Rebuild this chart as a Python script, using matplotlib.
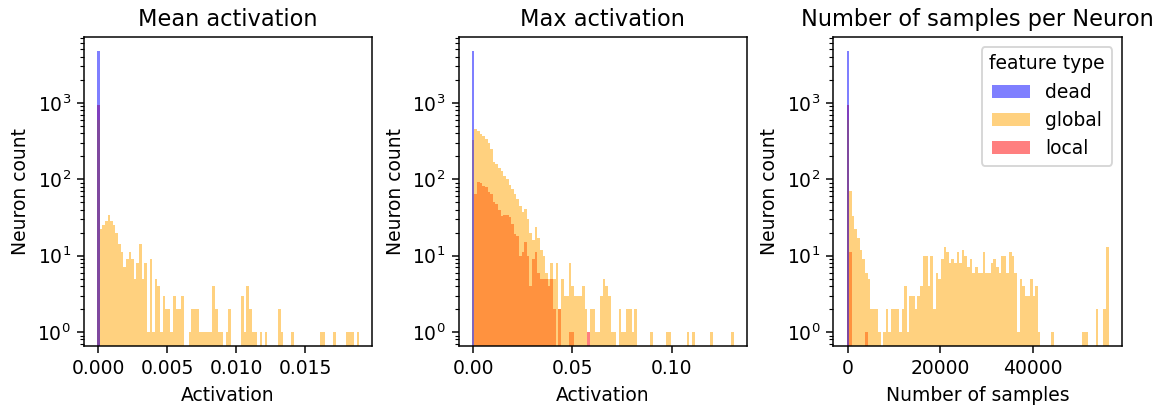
import numpy as np
import matplotlib.pyplot as plt

# --- data (100 bins per panel, counts per bin) ---
N_BINS = 100
DEAD_COUNT = 4700          # all dead neurons sit in bin 0

TITLES = ["Mean activation", "Max activation", "Number of samples per Neuron"]
XLABELS = ["Activation", "Activation", "Number of samples"]
HUE_ORDER = ["dead", "global", "local"]
PALETTE = {"dead": "blue", "global": "orange", "local": "red"}

MEAN_MAX = 0.0190
MEAN_GLOBAL = [600, 22, 25, 28, 34, 28, 25, 20, 14, 11,
               7, 9, 11, 9, 5, 8, 14, 5, 8, 1,
               9, 1, 5, 4, 1, 3, 2, 2, 1, 3,
               2, 2, 3, 0, 0, 1, 2, 2, 2, 1,
               1, 1, 1, 1, 4, 2, 1, 1, 0, 1,
               2, 0, 0, 0, 0, 3, 1, 4, 2, 1,
               1, 0, 1, 0, 1, 0, 0, 0, 0, 2,
               1, 0, 0, 0, 1, 0, 0, 0, 0, 0,
               0, 0, 0, 0, 0, 1, 1, 0, 0, 0,
               1, 0, 0, 0, 0, 1, 1, 1, 0, 1]
MEAN_LOCAL = [940]

MAX_MAX = 0.132
MAX_GLOBAL = [330, 460, 425, 385, 365, 335, 300, 245, 170, 157,
              142, 128, 110, 100, 85, 74, 64, 55, 45, 37,
              41, 30, 20, 16, 24, 17, 12, 10, 6, 5,
              8, 5, 8, 2, 5, 3, 3, 8, 4, 3,
              3, 3, 4, 2, 0, 2, 2, 1, 1, 3,
              5, 4, 3, 1, 1, 0, 2, 1, 1, 2,
              2, 1, 2, 0, 0, 0, 0, 0, 1, 0,
              0, 0, 0, 0, 1, 1, 0, 0, 0, 0,
              0, 0, 1, 0, 1, 0, 0, 0, 0, 0,
              0, 1, 0, 0, 0, 0, 0, 0, 0, 1]
MAX_LOCAL = [0, 64, 92, 90, 82, 78, 67, 64, 50, 48,
             40, 33, 34, 34, 32, 26, 19, 18, 10, 11,
             15, 10, 4, 9, 11, 6, 5, 5, 5, 4,
             5, 2, 0, 2, 0, 0, 0, 1, 1, 0,
             0, 0, 0, 0, 1]

SAMPLES_MAX = 56600
SAMPLES_GLOBAL = [600, 70, 33, 22, 17, 12, 9, 6, 5, 2,
                  2, 2, 1, 0, 1, 2, 1, 2, 2, 2,
                  1, 2, 4, 1, 3, 3, 2, 3, 4, 10,
                  10, 4, 10, 2, 6, 5, 9, 13, 11, 8,
                  9, 8, 11, 8, 12, 10, 7, 9, 6, 7,
                  6, 6, 11, 6, 6, 8, 9, 7, 6, 10,
                  10, 6, 11, 10, 6, 1, 5, 4, 3, 3,
                  5, 3, 4, 1, 0, 0, 0, 0, 1, 0,
                  0, 0, 0, 0, 0, 0, 0, 0, 0, 0,
                  1, 1, 0, 0, 0, 2, 0, 0, 2, 13]
SAMPLES_LOCAL = [940, 11, 0, 0, 0, 0, 0, 1]


def pad(counts):
    return np.array(list(counts) + [0] * (N_BINS - len(counts)), dtype=float)


panels = [
    (MEAN_MAX, MEAN_GLOBAL, MEAN_LOCAL),
    (MAX_MAX, MAX_GLOBAL, MAX_LOCAL),
    (SAMPLES_MAX, SAMPLES_GLOBAL, SAMPLES_LOCAL),
]

DPI = 135
fig, axes = plt.subplots(1, 3, figsize=(1157 / DPI, 411 / DPI), dpi=DPI)
fig.subplots_adjust(left=0.0726, right=0.9695, top=0.909, bottom=0.158, wspace=0.30)

for ax, (xmax, glob, loc), title, xlabel in zip(axes, panels, TITLES, XLABELS):
    edges = np.linspace(0, xmax, N_BINS + 1)
    w = edges[1] - edges[0]
    series = {"dead": pad([DEAD_COUNT]), "global": pad(glob), "local": pad(loc)}
    handles = {}
    # layered like seaborn: last hue level drawn first
    for name in reversed(HUE_ORDER):
        handles[name] = ax.bar(edges[:-1], series[name], width=w, color=PALETTE[name],
                               alpha=0.5, label=name, linewidth=0)
    ax.set_yscale("log")
    top = np.log10(DEAD_COUNT)
    ax.set_ylim(10 ** (-0.05 * top), 10 ** (1.05 * top))
    ax.set_title(title)
    ax.set_xlabel(xlabel)
    ax.set_ylabel("Neuron count")

axes[2].legend([handles[n] for n in HUE_ORDER], HUE_ORDER, title="feature type",
               loc="upper right")

fig.savefig("out.png", dpi=DPI)
